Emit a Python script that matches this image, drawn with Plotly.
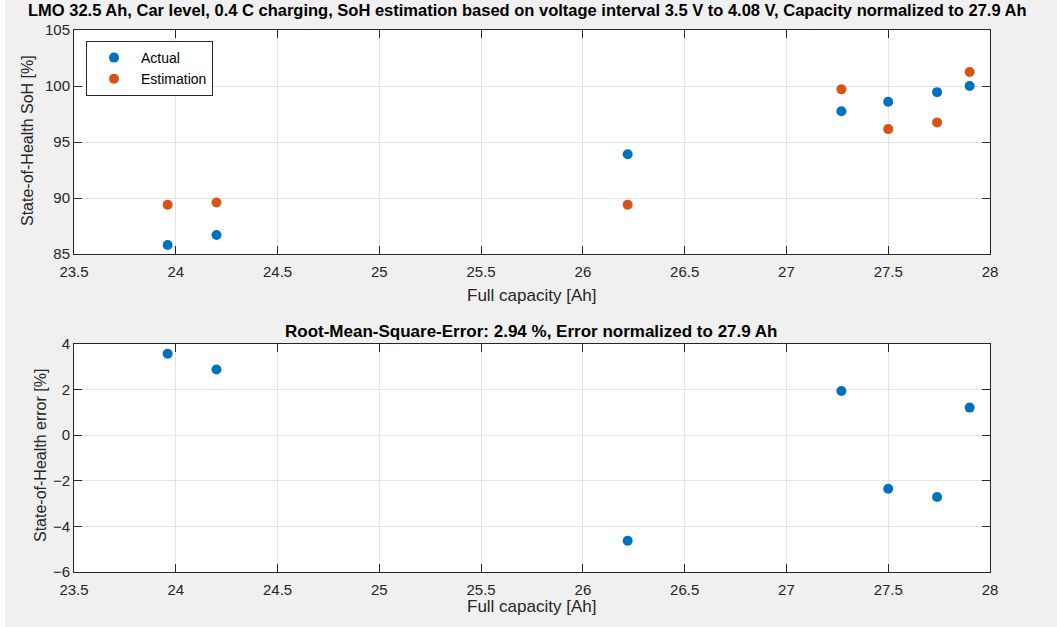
import plotly.graph_objects as go
from plotly.subplots import make_subplots

# Full capacity of each cell [Ah]
capacity = [23.96, 24.20, 26.22, 27.27, 27.50, 27.74, 27.90]
# State-of-Health [%]
soh_actual = [85.8, 86.7, 93.9, 97.75, 98.6, 99.45, 100.0]
soh_estimation = [89.4, 89.6, 89.4, 99.7, 96.15, 96.75, 101.25]
# Estimation error [%]
soh_error = [3.57, 2.88, -4.63, 1.94, -2.35, -2.71, 1.21]

x_ticks = [23.5, 24, 24.5, 25, 25.5, 26, 26.5, 27, 27.5, 28]
soh_ticks = [85, 90, 95, 100, 105]
err_ticks = [-6, -4, -2, 0, 2, 4]

BLUE = "#0072BD"
ORANGE = "#D95319"
AXIS = "#262626"
GRID = "#e3e3e3"
FONT = "Liberation Sans, Arial, sans-serif"

W, H = 1057, 627
ML, MR, MT, MB = 74, 67, 30, 55
plot_w = W - ML - MR
plot_h = H - MT - MB


def fy(ypix):
    return (H - MB - ypix) / plot_h


def fx(xpix):
    return (xpix - ML) / plot_w


fig = make_subplots(rows=2, cols=1)

fig.add_trace(go.Scatter(x=capacity, y=soh_actual, mode="markers", name="Actual",
                         marker=dict(color=BLUE, size=10)), row=1, col=1)
fig.add_trace(go.Scatter(x=capacity, y=soh_estimation, mode="markers", name="Estimation",
                         marker=dict(color=ORANGE, size=10)), row=1, col=1)
fig.add_trace(go.Scatter(x=capacity, y=soh_error, mode="markers", showlegend=False,
                         marker=dict(color=BLUE, size=10)), row=2, col=1)

axis_common = dict(
    showline=True, linecolor=AXIS, linewidth=1, mirror="ticks",
    ticks="inside", ticklen=8, tickcolor=AXIS, tickwidth=1,
    showgrid=True, gridcolor=GRID, gridwidth=1, zeroline=False,
    tickfont=dict(family=FONT, size=15, color=AXIS),
)

for r, dom in [(1, [fy(254), 1.0]), (2, [0.0, fy(344)])]:
    fig.update_xaxes(range=[23.5, 28], tickvals=x_ticks, ticktext=[f"{v:g}" for v in x_ticks],
                     ticklabelstandoff=4, domain=[0, 1], row=r, col=1, **axis_common)
    fig.update_yaxes(domain=dom, row=r, col=1, **axis_common)

fig.update_yaxes(range=[85, 105], tickvals=soh_ticks, row=1, col=1)
fig.update_yaxes(range=[-6, 4], tickvals=err_ticks, row=2, col=1)

title_font = dict(family=FONT, size=16.5, color="#000000")
sub_title_font = dict(family=FONT, size=17, color="#000000")
label_font = dict(family=FONT, size=17, color=AXIS)
ylabel_font = dict(family=FONT, size=16, color=AXIS)

# main title, hung from the top edge of the figure
fig.add_annotation(
    text="<b>LMO 32.5 Ah, Car level, 0.4 C charging, SoH estimation based on voltage interval 3.5 V to 4.08 V, Capacity normalized to 27.9 Ah</b>",
    xref="paper", yref="paper", x=fx(527), y=fy(0), xanchor="center", yanchor="top",
    showarrow=False, borderpad=0, font=title_font)

texts = [
    ("<b>Root-Mean-Square-Error: 2.94 %, Error normalized to 27.9 Ah</b>", 531, 331, 0, sub_title_font),
    ("Full capacity [Ah]", 531, 295, 0, label_font),
    ("Full capacity [Ah]", 531, 606, 0, label_font),
    ("State-of-Health SoH [%]", 27, 141, -90, ylabel_font),
    ("State-of-Health error [%]", 40, 456, -90, ylabel_font),
]
for txt, xp, yp, ang, fnt in texts:
    fig.add_annotation(text=txt, xref="paper", yref="paper", x=fx(xp), y=fy(yp),
                       xanchor="center", yanchor="middle", showarrow=False,
                       textangle=ang, font=fnt)

# thin white strip along the left border of the figure window
fig.add_shape(type="rect", xref="paper", yref="paper", x0=fx(-2), x1=fx(5),
              y0=fy(H + 2), y1=fy(-2), fillcolor="#ffffff", line=dict(width=0), layer="below")

fig.update_layout(
    width=W, height=H,
    margin=dict(l=ML, r=MR, t=MT, b=MB),
    paper_bgcolor="#f0f0f0", plot_bgcolor="#ffffff",
    showlegend=True,
    legend=dict(x=fx(86), y=fy(41), xanchor="left", yanchor="top",
                bgcolor="#ffffff", bordercolor=AXIS, borderwidth=1,
                font=dict(family=FONT, size=14, color="#000000"),
                itemwidth=44, tracegroupgap=0),
)

fig.write_html("out.html")
